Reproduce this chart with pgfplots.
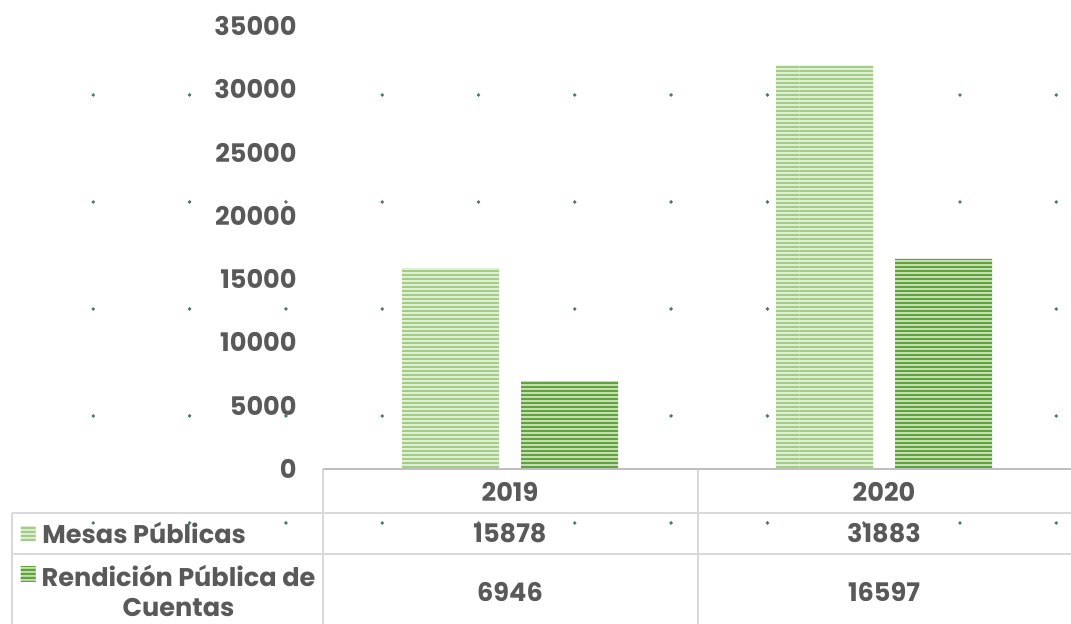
\documentclass[border=0pt]{standalone}
\usepackage{pgfplots}
\pgfplotsset{compat=1.18}
\usepackage{pgfplotstable}
\usepackage{fontspec}
\setmainfont{Poppins}
\usetikzlibrary{patterns}
\definecolor{txt}{HTML}{595959}
\definecolor{gridc}{HTML}{D9D9D9}
\definecolor{axc}{HTML}{BFBFBF}
\definecolor{lgA}{HTML}{A2CD87}
\definecolor{lgAbg}{HTML}{E0EED6}
\definecolor{dgB}{HTML}{62A23C}
\definecolor{dgBbg}{HTML}{C3DEB0}
\definecolor{dotc}{HTML}{4F7A60}
\newcommand\tf{\fontsize{12.8}{15}\selectfont\bfseries}
\pgfdeclarepatternformonly{hstripes}{\pgfpointorigin}{\pgfqpoint{200pt}{1.9pt}}{\pgfqpoint{200pt}{1.9pt}}{%
  \pgfpathrectangle{\pgfpointorigin}{\pgfqpoint{200pt}{1.05pt}}\pgfusepath{fill}}
\pgfdeclarepatternformonly{bgdots}{\pgfqpoint{-3.5pt}{48.5pt}}{\pgfqpoint{0.5pt}{52.5pt}}{\pgfqpoint{48.15pt}{53.5pt}}{%
  \pgfpathcircle{\pgfqpoint{-1.5pt}{50.5pt}}{0.95pt}\pgfusepath{fill}}
\pgfplotstableread{
x year mesas rend
0 2019 15878 6946
1 2020 31883 16597
}\datatable
\begin{document}
\begin{tikzpicture}
\useasboundingbox (0,0) rectangle (535.5pt,312pt);
\fill[pattern=bgdots, pattern color=dotc] (0,0) rectangle (535.5pt,312pt);
\begin{axis}[
  at={(161.5pt,77.5pt)}, anchor=south west,
  scale only axis, width=374pt, height=221.5pt,
  xmin=-0.5, xmax=1.5, ymin=0, ymax=35000,
  clip=false,
  axis line style={draw=none},
  major tick length=0pt,
  xtick={0,1}, xticklabels={2019,2020},
  ytick={0,5000,...,35000},
  scaled y ticks=false,
  /pgf/number format/.cd, 1000 sep={}, assume math mode=true,
  /pgfplots/.cd,
  ticklabel style={font=\tf, text=txt, inner sep=0pt},
  yticklabel style={anchor=east, xshift=-13pt},
  xticklabel style={anchor=center, yshift=-11.5pt},
]
\addplot[ybar, bar width=48.5pt, bar shift=-29.75pt, draw=none, fill=lgAbg,
  postaction={pattern=hstripes, pattern color=lgA}] table[x=x,y=mesas]\datatable;
\addplot[ybar, bar width=48.5pt, bar shift=29.75pt, draw=none, fill=dgBbg,
  postaction={pattern=hstripes, pattern color=dgB}] table[x=x,y=rend]\datatable;
\addplot[draw=none, mark=none, nodes near coords, point meta=explicit,
  every node near coord/.append style={anchor=center, font=\tf, text=txt, inner sep=0pt}]
  table[x=x, y expr=-5056, meta=mesas]\datatable;
\addplot[draw=none, mark=none, nodes near coords, point meta=explicit,
  every node near coord/.append style={anchor=center, font=\tf, text=txt, inner sep=0pt}]
  table[x=x, y expr=-9718, meta=rend]\datatable;
\end{axis}
% table grid
\draw[gridc, line width=0.75pt] (161.5pt,77.5pt) -- (161.5pt,0);
\draw[gridc, line width=0.75pt] (349pt,77.5pt) -- (349pt,0);
\draw[gridc, line width=0.75pt] (6pt,55.5pt) -- (535.5pt,55.5pt);
\draw[gridc, line width=0.75pt] (6pt,35pt) -- (535.5pt,35pt);
\draw[gridc, line width=0.75pt] (6pt,55.5pt) -- (6pt,0);
\draw[axc, line width=1pt] (161.5pt,77.5pt) -- (535.5pt,77.5pt);
% legend keys
\fill[lgAbg] (10.3pt,41.5pt) rectangle (17.8pt,49pt);
\fill[pattern=hstripes, pattern color=lgA] (10.3pt,41.5pt) rectangle (17.8pt,49pt);
\fill[dgBbg] (10.3pt,21pt) rectangle (17.8pt,28.5pt);
\fill[pattern=hstripes, pattern color=dgB] (10.3pt,21pt) rectangle (17.8pt,28.5pt);
\node[anchor=west, font=\tf, text=txt, inner sep=0pt] at (21pt,45.5pt) {Mesas Públicas};
\node[anchor=center, font=\tf, text=txt, inner sep=0pt, align=center] at (89.25pt,16.5pt)
  {\tf Rendición Pública de\\[-0.3pt]\tf Cuentas};
\end{tikzpicture}
\end{document}
